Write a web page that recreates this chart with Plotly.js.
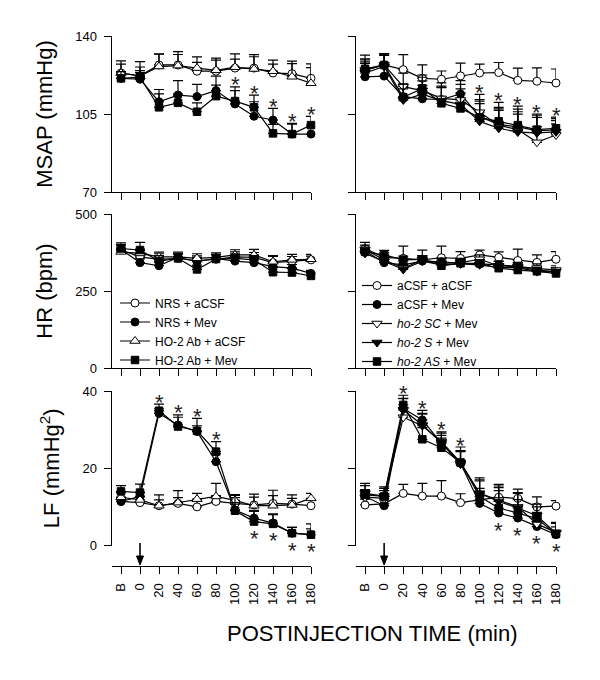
<!DOCTYPE html>
<html><head><meta charset="utf-8">
<script src="https://cdn.plot.ly/plotly-3.0.1.min.js"></script>
<style>html,body{margin:0;padding:0;background:#fff}#chart{width:600px;height:680px}</style>
</head><body><div id="chart"></div>
<script>
// ---------- shared x categories ----------
const timeLabels = ['B','0','20','40','60','80','100','120','140','160','180'];
const timeValues = [-20,0,20,40,60,80,100,120,140,160,180];
const injectionTime = 0;

// ---------- MSAP (mmHg) ----------
const msapNrsAcsf = [123.4,122.1,127,127,124.2,124.2,125.6,125.6,123.4,123.1,121];
const msapNrsAcsfErr = [5.4,4,5,6,4,5,4,6,4,4.5,6.5];
const msapNrsMev = [121,120.6,110.5,113.5,112.8,115.5,109.5,104,102.3,96,96];
const msapNrsMevErr = [3,3,5.5,6.5,5.5,6.5,6,6.5,5.2,4.8,3];
const msapHoAcsf = [123.4,122,126.3,126.7,125.6,124.6,126,125.2,124.2,121.7,118.8];
const msapHoAcsfErr = [4,6.5,5.5,5,5,5.5,6,5.5,5,7,7];
const msapHoMev = [121,121.5,108,110,106,113,110.8,108,96.3,96,100];
const msapHoMevErr = [3,3,6,4,4,5,6.4,5.5,4,4.5,3.9];

const msapAcsfAcsf = [124.7,127,124.9,121,120.6,122.1,123.4,123.6,120.1,119.7,118.9];
const msapAcsfAcsfErr = [6.7,5,6.7,6,3.7,5.7,4,4.5,5.5,6,6.3];
const msapAcsfMev = [121.7,122,112.8,111.8,111.5,114,103.8,100.3,99.2,97.5,97.9];
const msapAcsfMevErr = [6,5,5,6,6,6,7,7,8,7,5];
const msapSC = [124.7,127,117.3,115.5,112,111.3,105.8,100,98,92.3,95.6];
const msapSCErr = [5,5,6,6,7,7,8,8,8,7,5];
const msapS = [123.4,126.3,111.3,113.9,111,109.3,101.7,98.6,96.9,96.5,97];
const msapSErr = [5,5,5,6,6,7,8,8,8,7,5];
const msapAS = [125.3,127,112.5,116.5,109.8,107.5,103.5,101.7,100,98,98.6];
const msapASErr = [4,5,6,6,7,7,8,8.5,8.5,7,5];

// ---------- HR (bpm) ----------
const hrNrsAcsf = [383,361,353,356,349,353,361,359,342,347,351];
const hrNrsAcsfErr = [18,20,18,14,15,14,16,16,20,15,12];
const hrNrsMev = [385,342,332,359,345,356,347,342,329,324,307];
const hrNrsMevErr = [14,12,12,12,14,12,14,14,12,12,10];
const hrHoAcsf = [377,372,361,361,356,359,367,367,345,351,353];
const hrHoAcsfErr = [15,14,15,15,15,15,17,18,20,18,16];
const hrHoMev = [388,383,347,356,320,354,356,351,311,310,299];
const hrHoMevErr = [18,25,18,15,14,15,15,14,15,14,14];

const hrAcsfAcsf = [388,359,356,351,358,356,367,359,349,343,353];
const hrAcsfAcsfErr = [20,15,40,32,38,22,16,18,37,24,25];
const hrAcsfMev = [380,342,335,347,345,340,338,335,329,318,313];
const hrAcsfMevErr = [12,12,12,12,12,12,12,12,12,12,12];
const hrSC = [385,351,324,351,340,342,353,332,329,324,318];
const hrSCErr = [14,14,14,14,14,14,14,14,14,14,14];
const hrS = [372,345,320,347,335,338,335,326,326,313,313];
const hrSErr = [12,14,12,14,12,12,12,12,12,12,12];
const hrAS = [377,367,351,353,332,340,340,324,318,314,307];
const hrASErr = [12,15,12,12,12,12,12,12,12,12,12];

// ---------- LF (mmHg^2) ----------
const lfNrsAcsf = [11.4,11.1,10.3,10.9,10.0,11.4,10.9,10.5,10.9,10.7,10.3];
const lfNrsAcsfErr = [1,1.5,1.5,1.5,1.5,1.5,1.5,2,2,1.5,1.5];
const lfNrsMev = [11.4,12.7,34.2,31.2,29.5,21.7,9.2,7.1,5.8,3.2,2.8];
const lfNrsMevErr = [1,1,1.2,2,1.5,2,1.5,2,2.2,1.5,1.5];
const lfHoAcsf = [12.5,11.8,10.3,11.1,12.0,12.7,11.7,10.3,10.3,10.5,12.2];
const lfHoAcsfErr = [1.2,2,2.8,3.1,1.5,3.4,1.5,3,4,2.6,1.3];
const lfHoMev = [14,13.7,34.9,30.8,29.7,24.3,9,6.2,5.6,3.2,2.8];
const lfHoMevErr = [1.5,2.2,1.7,3,3.2,2.6,4,2.6,2.6,1.5,2.8];

const lfAcsfAcsf = [10.5,10.8,13.5,12.8,12.8,11.1,11.8,12.5,12.2,10,10.2];
const lfAcsfAcsfErr = [1.5,1.5,2.3,3.3,4,2.3,3,2.5,2.4,2.6,1.4];
const lfAcsfMev = [12.7,10.3,35.5,32.5,26.5,21.3,10.9,8.4,7.1,4.9,2.8];
const lfAcsfMevErr = [1.5,1.5,2.5,2.5,2,3,3,3,3,2.5,2];
const lfSC = [12.5,12.2,33.2,31,26.9,21.5,13.5,11.8,10,5.6,3.4];
const lfSCErr = [2,2,2.5,3,2.5,3,4,4,3.5,3,2.5];
const lfS = [13.5,12.8,35.1,31.2,26.6,21.1,13.5,11.4,9.7,7.7,3.2];
const lfSErr = [2,2,3,3,2.5,3.5,3.5,4,4,3,2.5];
const lfAS = [13.1,12.7,36.4,27.5,25.3,21.5,12.7,9.7,8.4,7,3];
const lfASErr = [3,2.5,2.5,3,2.5,4,4,4.5,3.5,3,3];

// significance marks (indices into timeValues)
const msapStarsLeft = [6,7,8,9,10];
const msapStarsRight = [6,7,8,9,10];
const lfStarsUpLeft = [2,3,4,5];
const lfStarsDownLeft = [7,8,9,10];
const lfStarsUpRight = [2,3,4,5];
const lfStarsDownRight = [7,8,9,10];

// legend names
const leftNames = ['NRS + aCSF','NRS + Mev','HO-2 Ab + aCSF','HO-2 Ab + Mev'];
const rightNames = ['aCSF + aCSF','aCSF + Mev','<i>ho-2 SC</i> + Mev','<i>ho-2 S</i> + Mev','<i>ho-2 AS</i> + Mev'];

// ---------- styling ----------
const FONT = 'Liberation Sans, Arial, sans-serif';
const sym = {
  oc:{symbol:'circle',color:'#fff',size:8},
  fc:{symbol:'circle',color:'#000',size:8},
  ot:{symbol:'triangle-up',color:'#fff',size:9},
  fs:{symbol:'square',color:'#000',size:7.5},
  od:{symbol:'triangle-down',color:'#fff',size:9},
  fd:{symbol:'triangle-down',color:'#000',size:9}
};

function tr(xa, ya, name, vals, errs, s, legend){
  return {
    type:'scatter', mode:'lines+markers', x:timeValues, y:vals, name:name,
    xaxis:xa, yaxis:ya, cliponaxis:false,
    showlegend: !!legend, legend: legend || 'legend',
    line:{color:'#000', width:1.2},
    marker:{symbol:s.symbol, color:s.color, size:s.size, line:{color:'#000', width:1}},
    error_y:{type:'data', symmetric:false, array:errs, arrayminus:errs.map(()=>0),
             color:'#000', thickness:1.2, width:5}
  };
}

const data = [
  tr('x','y',leftNames[0],msapNrsAcsf,msapNrsAcsfErr,sym.oc),
  tr('x','y',leftNames[1],msapNrsMev,msapNrsMevErr,sym.fc),
  tr('x','y',leftNames[2],msapHoAcsf,msapHoAcsfErr,sym.ot),
  tr('x','y',leftNames[3],msapHoMev,msapHoMevErr,sym.fs),

  tr('x2','y2',rightNames[0],msapAcsfAcsf,msapAcsfAcsfErr,sym.oc),
  tr('x2','y2',rightNames[1],msapAcsfMev,msapAcsfMevErr,sym.fc),
  tr('x2','y2',rightNames[2],msapSC,msapSCErr,sym.od),
  tr('x2','y2',rightNames[3],msapS,msapSErr,sym.fd),
  tr('x2','y2',rightNames[4],msapAS,msapASErr,sym.fs),

  tr('x3','y3',leftNames[0],hrNrsAcsf,hrNrsAcsfErr,sym.oc,'legend'),
  tr('x3','y3',leftNames[1],hrNrsMev,hrNrsMevErr,sym.fc,'legend'),
  tr('x3','y3',leftNames[2],hrHoAcsf,hrHoAcsfErr,sym.ot,'legend'),
  tr('x3','y3',leftNames[3],hrHoMev,hrHoMevErr,sym.fs,'legend'),

  tr('x4','y4',rightNames[0],hrAcsfAcsf,hrAcsfAcsfErr,sym.oc,'legend2'),
  tr('x4','y4',rightNames[1],hrAcsfMev,hrAcsfMevErr,sym.fc,'legend2'),
  tr('x4','y4',rightNames[2],hrSC,hrSCErr,sym.od,'legend2'),
  tr('x4','y4',rightNames[3],hrS,hrSErr,sym.fd,'legend2'),
  tr('x4','y4',rightNames[4],hrAS,hrASErr,sym.fs,'legend2'),

  tr('x5','y5',leftNames[0],lfNrsAcsf,lfNrsAcsfErr,sym.oc),
  tr('x5','y5',leftNames[1],lfNrsMev,lfNrsMevErr,sym.fc),
  tr('x5','y5',leftNames[2],lfHoAcsf,lfHoAcsfErr,sym.ot),
  tr('x5','y5',leftNames[3],lfHoMev,lfHoMevErr,sym.fs),

  tr('x6','y6',rightNames[0],lfAcsfAcsf,lfAcsfAcsfErr,sym.oc),
  tr('x6','y6',rightNames[1],lfAcsfMev,lfAcsfMevErr,sym.fc),
  tr('x6','y6',rightNames[2],lfSC,lfSCErr,sym.od),
  tr('x6','y6',rightNames[3],lfS,lfSErr,sym.fd),
  tr('x6','y6',rightNames[4],lfAS,lfASErr,sym.fs)
];

// ---------- geometry ----------
const W = 600, H = 680;
const px = v => v / W, py = v => 1 - v / H;
const leftDom = [px(111.5), px(311)];
const rightDom = [px(355.5), px(556)];
const topDom = [py(192), py(36)];
const midDom = [py(368), py(214)];
const botDom = [py(545.5), py(391)];

const xBase = {range:[-30,180], tickmode:'array', tickvals:timeValues, ticktext:timeLabels,
  showline:true, linecolor:'#000', linewidth:1, ticks:'outside', ticklen:7, tickwidth:1, tickcolor:'#000',
  showgrid:false, zeroline:false, fixedrange:true, tickfont:{size:13, family:FONT, color:'#000'}};
const yBase = {showline:true, linecolor:'#000', linewidth:1, ticks:'outside', ticklen:7, tickwidth:1, tickcolor:'#000',
  showgrid:false, zeroline:false, fixedrange:true, tickfont:{size:13, family:FONT, color:'#000'}, ticklabelstandoff:4};
const titleFont = {size:22, family:FONT, color:'#000'};

// ---------- annotations ----------
const annotations = [];
function stars(xa, ya, seriesList, upIdx, downIdx){
  upIdx.forEach(i => {
    const top = Math.max(...seriesList.map(s => s[0][i] + s[1][i]));
    annotations.push({x:timeValues[i], y:top, xref:xa, yref:ya, text:'*', showarrow:false,
      font:{size:22, family:FONT, color:'#222'}, yanchor:'middle', yshift:2});
  });
  (downIdx||[]).forEach(i => {
    const low = Math.min(...seriesList.map(s => s[0][i]));
    annotations.push({x:timeValues[i], y:low, xref:xa, yref:ya, text:'*', showarrow:false,
      font:{size:22, family:FONT, color:'#222'}, yanchor:'middle', yshift:-17});
  });
}
stars('x','y',[[msapNrsMev,msapNrsMevErr],[msapHoMev,msapHoMevErr]], msapStarsLeft);
stars('x2','y2',[[msapAcsfMev,msapAcsfMevErr],[msapSC,msapSCErr],[msapS,msapSErr],[msapAS,msapASErr]], msapStarsRight);
stars('x5','y5',[[lfNrsMev,lfNrsMevErr],[lfHoMev,lfHoMevErr]], lfStarsUpLeft, lfStarsDownLeft);
stars('x6','y6',[[lfAcsfMev,lfAcsfMevErr],[lfSC,lfSCErr],[lfS,lfSErr],[lfAS,lfASErr]], lfStarsUpRight, lfStarsDownRight);

annotations.push({x:px(372), y:py(633), xref:'paper', yref:'paper', text:'POSTINJECTION TIME (min)',
  showarrow:false, font:{size:22, family:FONT, color:'#000'}, xanchor:'center', yanchor:'middle'});

// injection arrows (shapes anchored at the injection time, sized in pixels)
const shapes = [];
['x5','x6'].forEach(xa => {
  shapes.push({type:'path', xref:xa, yref:'paper', xsizemode:'pixel', ysizemode:'pixel',
    xanchor:injectionTime, yanchor:py(565), path:'M 0 8 L 0 22',
    line:{color:'#000', width:1.6}});
  shapes.push({type:'path', xref:xa, yref:'paper', xsizemode:'pixel', ysizemode:'pixel',
    xanchor:injectionTime, yanchor:py(565), path:'M -3.5 9 L 3.5 9 L 0 0 Z',
    fillcolor:'#000', line:{color:'#000', width:1}});
});

const axisPos = py(566);
const layout = {
  width:W, height:H, margin:{l:0,r:0,t:0,b:0}, paper_bgcolor:'#fff', plot_bgcolor:'rgba(0,0,0,0)',
  font:{family:FONT, color:'#000'},
  xaxis: Object.assign({}, xBase, {domain:leftDom, anchor:'y', showticklabels:false}),
  xaxis2: Object.assign({}, xBase, {domain:rightDom, anchor:'y2', showticklabels:false}),
  xaxis3: Object.assign({}, xBase, {domain:leftDom, anchor:'y3', showticklabels:false}),
  xaxis4: Object.assign({}, xBase, {domain:rightDom, anchor:'y4', showticklabels:false}),
  xaxis5: Object.assign({}, xBase, {domain:leftDom, anchor:'free', position:axisPos, tickangle:-90, ticklabelstandoff:4}),
  xaxis6: Object.assign({}, xBase, {domain:rightDom, anchor:'free', position:axisPos, tickangle:-90, ticklabelstandoff:4}),
  yaxis: Object.assign({}, yBase, {domain:topDom, anchor:'x', range:[70,140], tickvals:[70,105,140],
    title:{text:'MSAP (mmHg)', font:titleFont, standoff:16}}),
  yaxis2: Object.assign({}, yBase, {domain:topDom, anchor:'x2', range:[70,140], tickvals:[70,105,140], showticklabels:false}),
  yaxis3: Object.assign({}, yBase, {domain:midDom, anchor:'x3', range:[0,500], tickvals:[0,250,500],
    title:{text:'HR (bpm)', font:titleFont, standoff:16}}),
  yaxis4: Object.assign({}, yBase, {domain:midDom, anchor:'x4', range:[0,500], tickvals:[0,250,500], showticklabels:false}),
  yaxis5: Object.assign({}, yBase, {domain:botDom, anchor:'x5', range:[0,40], tickvals:[0,20,40],
    title:{text:'LF (mmHg<sup>2</sup>)', font:titleFont, standoff:16}}),
  yaxis6: Object.assign({}, yBase, {domain:botDom, anchor:'x6', range:[0,40], tickvals:[0,20,40], showticklabels:false}),
  legend:{x:px(115), y:py(288.5), xanchor:'left', yanchor:'top', bgcolor:'rgba(0,0,0,0)', borderwidth:0,
    font:{size:12, family:FONT, color:'#000'}, tracegroupgap:0},
  legend2:{x:px(357), y:py(271), xanchor:'left', yanchor:'top', bgcolor:'rgba(0,0,0,0)', borderwidth:0,
    font:{size:12, family:FONT, color:'#000'}, tracegroupgap:0},
  annotations: annotations,
  shapes: shapes,
  showlegend:true
};

Plotly.newPlot('chart', data, layout, {staticPlot:true, displayModeBar:false});
</script>
</body></html>
